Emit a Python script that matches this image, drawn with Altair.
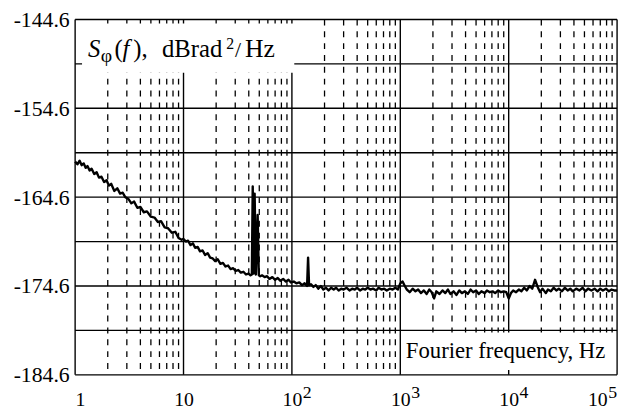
import altair as alt
import pandas as pd

# ---- data ----
freq = [1.0, 1.05, 1.1, 1.15, 1.2, 1.25, 1.3, 1.36, 1.42, 1.5, 1.58, 1.66, 1.75, 1.85, 1.95,
        2.05, 2.15, 2.3, 2.45, 2.6, 2.75, 2.9, 3.1, 3.3, 3.5, 3.75, 4.0, 4.3, 4.6, 5.0, 5.4,
        5.8, 6.2, 6.7, 7.2, 7.8, 8.4, 9.0, 9.6, 10.0,
        10.5, 11, 11.6, 12.2, 12.8, 13.5, 14.2, 15, 15.8, 16.7, 17.6, 18.6, 19.6, 20.7, 21.9,
        23.1, 24.4, 25.8, 27.2, 28.7, 30.3, 32, 33.8, 35.7, 37.7, 39.8, 41.5, 42.7, 43.5, 44.5,
        45.3, 46.5, 48.3, 49.5, 51, 53, 56, 59, 62, 66, 70, 74, 78, 83, 88, 93, 98,
        104, 110, 117, 124, 131, 138, 141, 144, 150, 158, 166, 175, 185, 195, 206, 218, 230,
        243, 256, 270, 285, 300, 320, 340, 360, 380, 400, 425, 450, 475, 500, 530, 560, 600,
        630, 670, 710, 750, 800, 850, 900, 950, 1000, 1050, 1100,
        1150, 1220, 1300, 1380, 1460, 1550, 1650, 1750, 1850, 1950, 2050, 2150, 2300, 2450,
        2600, 2750, 2900, 3100, 3300, 3500, 3700, 3950, 4200, 4450, 4700, 5000, 5300, 5600,
        6000, 6300, 6700, 7100, 7500, 8000, 8500, 9000, 9500, 10000,
        10500, 11000, 11700, 12400, 13100, 13900, 14700, 15600, 16500, 17500, 18500, 19500,
        20500, 22000, 23000, 24500, 26000, 27500, 29000, 31000, 33000, 35000, 37000, 39000,
        42000, 45000, 48000, 51000, 54000, 58000, 62000, 66000, 70000, 74000, 79000, 84000,
        89000, 94000, 100000]
sphi = [-160.6, -160.9, -160.5, -161.0, -160.8, -161.3, -161.1, -161.6, -161.4, -162.0, -161.8,
        -162.4, -162.3, -162.9, -162.7, -163.3, -163.1, -163.9, -163.6, -164.2, -164.1, -164.6,
        -164.8, -165.3, -165.1, -165.8, -165.7, -166.3, -166.2, -166.8, -166.9, -167.4, -167.3,
        -168.0, -168.1, -168.6, -168.5, -169.2, -169.4, -169.3,
        -169.6, -169.5, -170.0, -169.8, -170.3, -170.2, -170.7, -170.6, -171.1, -170.9, -171.4,
        -171.5, -171.8, -171.6, -172.1, -172.0, -172.4, -172.3, -172.7, -172.6, -172.9, -172.8,
        -173.1, -173.0, -173.3, -173.2, -173.4, -173.3, -163.4, -173.2, -164.2, -173.3, -166.6,
        -173.4, -173.5, -173.4, -173.6, -173.5, -173.8, -173.6, -173.9, -173.7, -174.0,
        -173.8, -174.1, -173.9, -174.2,
        -174.1, -174.3, -174.2, -174.5, -174.3, -174.6, -171.4, -174.5, -174.4, -174.7, -174.5,
        -174.9, -174.6, -175.0, -174.8, -175.1, -174.8, -175.0, -174.8, -175.1, -174.9, -175.0,
        -174.8, -175.1, -174.9, -175.0, -174.8, -175.1, -174.9, -175.0, -174.8, -175.0, -174.9,
        -175.1, -174.8, -175.0, -174.9, -175.1, -174.9, -175.0, -174.8, -175.0, -174.3, -174.1,
        -174.6,
        -175.0, -175.3, -174.9, -175.2, -175.0, -175.4, -175.1, -175.5, -175.0, -175.3, -176.0,
        -175.2, -175.5, -175.1, -175.4, -175.0, -175.5, -175.2, -175.6, -175.1, -175.4, -175.2,
        -175.5, -175.0, -175.3, -175.1, -175.5, -175.2, -175.4, -175.1, -175.3, -175.2, -175.4,
        -175.1, -175.3, -175.2, -175.3, -176.0,
        -175.4, -175.1, -175.3, -175.0, -175.2, -174.8, -175.1, -174.6, -174.9, -173.9, -174.7,
        -175.3, -174.9, -175.4, -175.0, -175.2, -174.8, -175.1, -174.9, -175.2, -174.8, -175.1,
        -174.9, -175.2, -174.9, -175.1, -174.8, -175.2, -174.9, -175.1, -174.9, -175.2, -174.9,
        -175.1, -174.9, -175.2, -175.0, -175.1, -175.1]

x_decades = [1, 10, 100, 1000, 10000, 100000]
x_base = ["1", "10", "10", "10", "10", "10"]
x_exp = ["", "", "2", "3", "4", "5"]
x_minor = [m * d for d in [1, 10, 100, 1000, 10000] for m in range(2, 10)]
y_ticks = [-184.6, -174.6, -164.6, -154.6, -144.6]
y_grid = [-184.6, -179.6, -174.6, -169.6, -164.6, -159.6, -154.6, -149.6, -144.6]

title_text = "Fourier frequency, Hz"

W, H = 549, 360
SERIF = "Liberation Serif"

xs = alt.Scale(type="log", domain=[1, 100000])
ys = alt.Scale(domain=[-184.6, -144.6])

label_expr = "[{}][indexof([{}], datum.value)]".format(
    ",".join("'{}'".format(l) for l in x_base), ",".join(str(v) for v in x_decades))

df = pd.DataFrame({"f": freq, "s": sphi})
one = pd.DataFrame({"k": [0]})
exp_df = pd.DataFrame({"f": x_decades, "e": x_exp, "last": [i == len(x_decades) - 1 for i in range(len(x_decades))]})

axes = alt.Chart(pd.DataFrame({"f": x_decades, "s": [-184.6] * len(x_decades)})).mark_point(opacity=0).encode(
    x=alt.X("f:Q", scale=xs, axis=alt.Axis(values=x_decades, labelExpr=label_expr, labelFlush=True,
                                           labelOffset={"condition": {"test": "datum.value == %d" % x_decades[-1],
                                                                      "value": -10}, "value": 0},
                                           title=None, grid=False, ticks=False, domain=False,
                                           labelFont=SERIF, labelFontSize=20, labelPadding=31,
                                           labelBaseline="alphabetic", labelColor="black")),
    y=alt.Y("s:Q", scale=ys, axis=alt.Axis(values=y_ticks, title=None, grid=False,
                                           labelExpr="replace(format(datum.value, '.1f'), '\u2212', '-')",
                                           ticks=False, domain=False, labelFont=SERIF,
                                           labelFontSize=22, labelPadding=6, labelColor="black")),
)

minor = alt.Chart(pd.DataFrame({"f": x_minor})).mark_rule(
    color="black", strokeWidth=1.3, strokeDash=[6, 6]).encode(x=alt.X("f:Q", scale=xs))
major = alt.Chart(pd.DataFrame({"f": x_decades})).mark_rule(
    color="black", strokeWidth=1.4).encode(x=alt.X("f:Q", scale=xs))
hgrid = alt.Chart(pd.DataFrame({"s": y_grid})).mark_rule(
    color="black", strokeWidth=1.4).encode(y=alt.Y("s:Q", scale=ys))

curve = alt.Chart(df).mark_line(color="black", strokeWidth=2.4, strokeJoin="round").encode(
    x=alt.X("f:Q", scale=xs), y=alt.Y("s:Q", scale=ys), order="f:Q")

exp_mid = alt.Chart(exp_df).transform_filter("datum.e != '' && !datum.last").mark_text(
    align="left", baseline="alphabetic", font=SERIF, fontSize=18, dx=11, color="black").encode(
    x=alt.X("f:Q", scale=xs), y=alt.value(H + 23), text="e:N")
exp_last = alt.Chart(exp_df).transform_filter("datum.last").mark_text(
    align="left", baseline="alphabetic", font=SERIF, fontSize=18, dx=-9, color="black").encode(
    x=alt.X("f:Q", scale=xs), y=alt.value(H + 23), text="e:N")


def box(x1, x2, y1, y2):
    return alt.Chart(one).mark_rect(fill="white").encode(
        x=alt.value(x1), x2=alt.value(x2), y=alt.value(y1), y2=alt.value(y2))


def txt(s, x, y, size, style="normal"):
    return alt.Chart(one).mark_text(text=s, align="left", baseline="alphabetic", font=SERIF,
                                    fontSize=size, fontStyle=style, color="black").encode(
        x=alt.value(x), y=alt.value(y))


title_box = box(7, 222, 4, 54)
fourier_box = box(332, 548, 317, 355)

texts = [
    txt("S", 13, 38, 25, "italic"),
    txt("φ", 26, 43, 20),
    txt("(", 40, 38, 25),
    txt("f", 48, 38, 25, "italic"),
    txt("),", 59, 38, 25),
    txt("dBrad", 88, 38, 25),
    txt("2", 153, 30, 16),
    txt("/", 162, 38, 22),
    txt("Hz", 172, 38, 26),
    txt(title_text, 335, 343, 23),
]

chart = alt.layer(axes, minor, major, hgrid, curve, title_box, fourier_box, *texts,
                  exp_mid, exp_last).properties(
    width=W, height=H,
    autosize=alt.AutoSizeParams(type="none"),
    padding={"left": 68, "top": 9, "right": 6, "bottom": 33},
    background="white",
).configure_view(stroke=None)

chart.save("out.html", embed_options={"renderer": "svg", "actions": False})
